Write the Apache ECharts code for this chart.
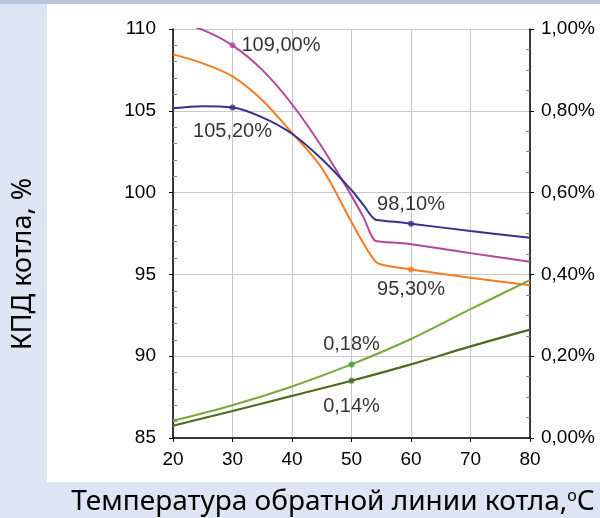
<!DOCTYPE html>
<html><head><meta charset="utf-8">
<script src="https://cdn.jsdelivr.net/npm/echarts@6/dist/echarts.min.js"></script>
<style>html,body{margin:0;padding:0;background:#fff}#c{width:600px;height:518px}</style>
</head><body><div id="c"></div>
<script>
// X values (°C) for efficiency curves
const xTemp = [20, 25, 30, 35, 40, 45, 50, 52, 54, 55, 60, 70, 80];
// Efficiency curves, % (left axis)
const seriesNavy   = [105.15, 105.28, 105.2, 104.6, 103.6, 102.05, 100.15, 99.25, 98.35, 98.3, 98.1, 97.65, 97.24];
const seriesPurple = [110.5, 109.95, 109.0, 107.5, 105.4, 102.8, 99.8, 98.5, 97.05, 97.0, 96.85, 96.3, 95.77];
const seriesOrange = [108.45, 107.9, 107.1, 105.65, 103.65, 101.5, 98.2, 96.9, 95.8, 95.6, 95.3, 94.8, 94.33];
// X values for loss curves
const xLoss = [20, 30, 40, 50, 60, 70, 80];
// Loss curves, % (right axis)
const seriesLightGreen = [0.042, 0.080, 0.126, 0.180, 0.242, 0.315, 0.386];
const seriesDarkGreen  = [0.030, 0.066, 0.103, 0.140, 0.180, 0.224, 0.265];
// Axis ticks
const xTicks = {min: 20, max: 80, step: 10};
const leftTicks = {min: 85, max: 110, step: 5};
const rightTicks = {min: 0, max: 1, step: 0.2};
// Titles
const yTitle = 'КПД котла, %';
const xTitleMain = 'Температура обратной линии котла,';
const xTitleSup = 'о';
const xTitleEnd = 'С';

const fmtPct = v => v.toFixed(2).replace('.', ',') + '%';
const pair = (xs, ys) => xs.map((x, i) => [x, ys[i]]);

const C = {navy: '#3b2f8e', purple: '#b2479e', orange: '#f57b20', lg: '#7aa83c', dg: '#4e6a22', lgMark: '#3c9e3c'};
const tickFont = {fontFamily: '"Liberation Sans", Arial, sans-serif', fontSize: 19, color: '#000'};
const lblFont = {fontFamily: '"Liberation Sans", Arial, sans-serif', fontSize: 20, color: '#000'};

function marker(xs, ys, idx, color, pos, dist, yAxisIndex) {
  return {
    type: 'scatter', yAxisIndex: yAxisIndex, symbol: 'circle', symbolSize: 6,
    itemStyle: {color: color}, z: 5, silent: true,
    data: [[xs[idx], ys[idx]]],
    label: Object.assign({show: true, position: pos, distance: dist,
      formatter: p => fmtPct(p.value[1])}, lblFont)
  };
}
function line(xs, ys, color, yAxisIndex, w) {
  return {type: 'line', yAxisIndex: yAxisIndex, data: pair(xs, ys), symbol: 'none',
    smooth: 0.35, lineStyle: {color: color, width: w || 2}, z: 3, silent: true, clip: true};
}

const chart = echarts.init(document.getElementById('c'), null, {renderer: 'canvas'});
chart.setOption({
  animation: false,
  backgroundColor: '#dee4f4',
  graphic: [
    {type: 'rect', shape: {x: 0, y: 0, width: 600, height: 4}, style: {fill: '#bac6da'}, z: -10},
    {type: 'rect', shape: {x: 47, y: 4, width: 553, height: 478}, style: {fill: '#ffffff'}, z: -10},
    {type: 'text', x: 23, y: 264, rotation: Math.PI / 2,
      style: {text: yTitle, font: '27px "Noto Sans", sans-serif', fill: '#000', align: 'center', verticalAlign: 'middle'}},
    {type: 'text', x: 333, y: 502,
      style: {text: xTitleMain + '{s|' + xTitleSup + '}' + xTitleEnd, align: 'center', verticalAlign: 'middle',
        fontFamily: 'Noto Sans', fontSize: 28, fill: '#000',
        rich: {s: {fontSize: 16, verticalAlign: 'top', fontFamily: 'Noto Sans', padding: [0, 0, 12, 0]}}}}
  ],
  grid: {left: 173, right: 70, top: 29, bottom: 80},
  xAxis: {
    type: 'value', min: xTicks.min, max: xTicks.max, interval: xTicks.step,
    axisLine: {show: true, onZero: false, lineStyle: {color: '#000', width: 1.5}},
    axisTick: {show: true, length: 4, lineStyle: {color: '#000'}},
    axisLabel: Object.assign({margin: 12}, tickFont),
    splitLine: {show: true, lineStyle: {color: '#c9c9c9', width: 1}}
  },
  yAxis: [
    {type: 'value', min: leftTicks.min, max: leftTicks.max, interval: leftTicks.step, position: 'left',
      axisLine: {show: true, lineStyle: {color: '#000', width: 1.5}},
      axisTick: {show: true, length: 4, lineStyle: {color: '#000'}},
      minorTick: {show: true, splitNumber: 5, length: -4, lineStyle: {color: '#888'}},
      axisLabel: Object.assign({margin: 17}, tickFont),
      splitLine: {show: true, lineStyle: {color: '#c9c9c9', width: 1}}},
    {type: 'value', min: rightTicks.min, max: rightTicks.max, interval: rightTicks.step, position: 'right',
      axisLine: {show: true, lineStyle: {color: '#000', width: 1.5}},
      axisTick: {show: true, length: 4, lineStyle: {color: '#000'}},
      minorTick: {show: true, splitNumber: 4, length: -4, lineStyle: {color: '#888'}},
      axisLabel: Object.assign({margin: 11, formatter: v => fmtPct(v)}, tickFont),
      splitLine: {show: false}}
  ],
  series: [
    line(xTemp, seriesOrange, C.orange, 0),
    line(xTemp, seriesPurple, C.purple, 0),
    line(xTemp, seriesNavy, C.navy, 0),
    line(xLoss, seriesLightGreen, C.lg, 1),
    line(xLoss, seriesDarkGreen, C.dg, 1, 2.2),
    marker(xTemp, seriesPurple, 2, C.purple, 'right', 6, 0),
    marker(xTemp, seriesNavy, 2, C.navy, 'bottom', 11, 0),
    marker(xTemp, seriesNavy, 10, C.navy, 'top', 6, 0),
    marker(xTemp, seriesOrange, 10, C.orange, 'bottom', 7, 0),
    marker(xLoss, seriesLightGreen, 3, C.lgMark, 'top', 7, 1),
    marker(xLoss, seriesDarkGreen, 3, C.dg, 'bottom', 13, 1)
  ]
});
</script></body></html>
